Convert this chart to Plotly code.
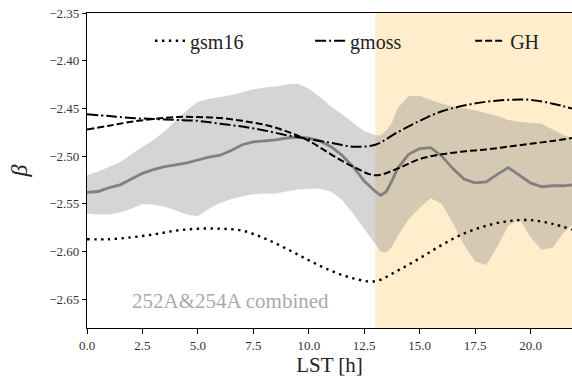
import plotly.graph_objects as go

# ---- data ----
lst_band = [0, 0.5, 1, 1.5, 2, 2.5, 3, 3.5, 4, 4.5, 5, 5.5, 6, 6.5, 7, 7.5, 8, 8.5, 9, 9.5,
            10, 10.5, 11, 11.5, 12, 12.5, 13, 13.25, 13.5, 13.75, 14, 14.5, 15, 15.5, 16, 16.5,
            17, 17.5, 18, 18.5, 19, 19.5, 20, 20.5, 21, 21.5, 21.87]
beta_mean = [-2.538, -2.537, -2.533, -2.530, -2.524, -2.518, -2.514, -2.511, -2.509, -2.507,
             -2.504, -2.501, -2.499, -2.494, -2.488, -2.485, -2.484, -2.483, -2.481, -2.480,
             -2.481, -2.484, -2.490, -2.499, -2.511, -2.526, -2.537, -2.541, -2.537, -2.526,
             -2.513, -2.498, -2.492, -2.491, -2.500, -2.513, -2.524, -2.528, -2.527, -2.519,
             -2.512, -2.520, -2.528, -2.532, -2.531, -2.531, -2.530]
beta_upper = [-2.520, -2.516, -2.511, -2.506, -2.498, -2.490, -2.483, -2.474, -2.463, -2.452,
              -2.443, -2.440, -2.438, -2.436, -2.433, -2.430, -2.428, -2.427, -2.425, -2.424,
              -2.429, -2.438, -2.448, -2.456, -2.465, -2.474, -2.478, -2.478, -2.473, -2.465,
              -2.450, -2.437, -2.437, -2.441, -2.445, -2.448, -2.450, -2.452, -2.455, -2.458,
              -2.462, -2.464, -2.465, -2.466, -2.472, -2.478, -2.481]
beta_lower = [-2.560, -2.561, -2.561, -2.559, -2.555, -2.550, -2.551, -2.553, -2.557, -2.561,
              -2.563, -2.555, -2.549, -2.545, -2.542, -2.540, -2.539, -2.539, -2.537, -2.535,
              -2.534, -2.534, -2.537, -2.546, -2.560, -2.576, -2.593, -2.600, -2.601, -2.595,
              -2.584, -2.566, -2.554, -2.544, -2.550, -2.570, -2.593, -2.610, -2.614, -2.595,
              -2.573, -2.566, -2.585, -2.598, -2.596, -2.580, -2.572]

lst_model = [0, 1, 2, 3, 4, 5, 6, 7, 8, 9, 10, 11, 12, 13, 14, 15, 16, 17, 18, 19, 20, 21, 21.87]
beta_gsm16 = [-2.587, -2.587, -2.585, -2.582, -2.578, -2.576, -2.576, -2.578, -2.586, -2.597,
              -2.609, -2.620, -2.628, -2.631, -2.620, -2.607, -2.593, -2.581, -2.573, -2.568,
              -2.567, -2.571, -2.577]
beta_gmoss = [-2.456, -2.458, -2.460, -2.461, -2.462, -2.463, -2.466, -2.469, -2.473, -2.478,
              -2.482, -2.486, -2.490, -2.488, -2.475, -2.463, -2.453, -2.447, -2.443, -2.441,
              -2.441, -2.445, -2.450]
beta_gh = [-2.472, -2.468, -2.464, -2.461, -2.459, -2.459, -2.460, -2.463, -2.467, -2.474,
           -2.484, -2.498, -2.511, -2.520, -2.513, -2.503, -2.498, -2.495, -2.493, -2.490,
           -2.487, -2.484, -2.481]

x_ticks = [0, 2.5, 5, 7.5, 10, 12.5, 15, 17.5, 20]
y_ticks = [-2.35, -2.40, -2.45, -2.50, -2.55, -2.60, -2.65]
night_start = 13.0
label_text = "252A&254A combined"

FONT = "Liberation Serif, DejaVu Serif, serif"

fig = go.Figure()

fig.add_trace(go.Scatter(x=lst_band, y=beta_lower, mode="lines", line=dict(width=0),
                         showlegend=False, hoverinfo="skip"))
fig.add_trace(go.Scatter(x=lst_band, y=beta_upper, mode="lines", line=dict(width=0),
                         fill="tonexty", fillcolor="rgba(128,128,128,0.33)",
                         showlegend=False, hoverinfo="skip"))
fig.add_trace(go.Scatter(x=lst_band, y=beta_mean, mode="lines",
                         line=dict(color="#808080", width=2.8), showlegend=False))

fig.add_trace(go.Scatter(x=lst_model, y=beta_gsm16, mode="lines", name="gsm16", legend="legend",
                         line=dict(color="black", width=2.4, dash="2.4px,4.5px", shape="spline")))
fig.add_trace(go.Scatter(x=lst_model, y=beta_gmoss, mode="lines", name="gmoss", legend="legend2",
                         line=dict(color="black", width=2, dash="11px,3px,2px,3px", shape="spline")))
fig.add_trace(go.Scatter(x=lst_model, y=beta_gh, mode="lines", name="GH", legend="legend3",
                         line=dict(color="black", width=2, dash="7px,3px", shape="spline")))

fig.add_vrect(x0=night_start, x1=24, fillcolor="rgba(255,165,0,0.2)", line_width=0, layer="below")

fig.add_annotation(text=label_text, xref="paper", yref="paper", x=0.089, y=0.085,
                   xanchor="left", yanchor="middle", showarrow=False,
                   font=dict(family=FONT, size=21, color="#aaaaaa"))


def leg(xpos):
    return dict(orientation="h", x=xpos, y=0.912, xanchor="left", yanchor="middle",
                bgcolor="rgba(0,0,0,0)", borderwidth=0,
                font=dict(family=FONT, size=20, color="#222222"))


fig.update_layout(
    width=572, height=378,
    margin=dict(l=87, r=0, t=13, b=50),
    paper_bgcolor="white", plot_bgcolor="white",
    font=dict(family=FONT, color="#222222"),
    legend=leg(0.13), legend2=leg(0.46), legend3=leg(0.79),
    xaxis=dict(range=[0, 21.87], tickvals=x_ticks, ticktext=[f"{v:.1f}" for v in x_ticks],
               showgrid=False, zeroline=False, showline=True, linecolor="black", linewidth=1.2,
               mirror=True, ticks="outside", ticklen=5, tickcolor="black",
               tickfont=dict(family=FONT, size=13, color="#333333"),
               title=dict(text="LST [h]", font=dict(family=FONT, size=21, color="#222222"), standoff=1)),
    yaxis=dict(range=[-2.68, -2.35], tickvals=y_ticks,
               ticktext=[f"\u2212{abs(v):.2f}" for v in y_ticks],
               showgrid=False, zeroline=False, showline=True, linecolor="black", linewidth=1.2,
               ticks="outside", ticklen=4, tickcolor="black",
               tickfont=dict(family=FONT, size=13, color="#333333"),
               title=dict(text="<i>β</i>", font=dict(family=FONT, size=24, color="#222222"), standoff=14)),
)

fig.write_html("out.html", config={"displayModeBar": False},
               post_script="document.body.style.margin='0px';")
